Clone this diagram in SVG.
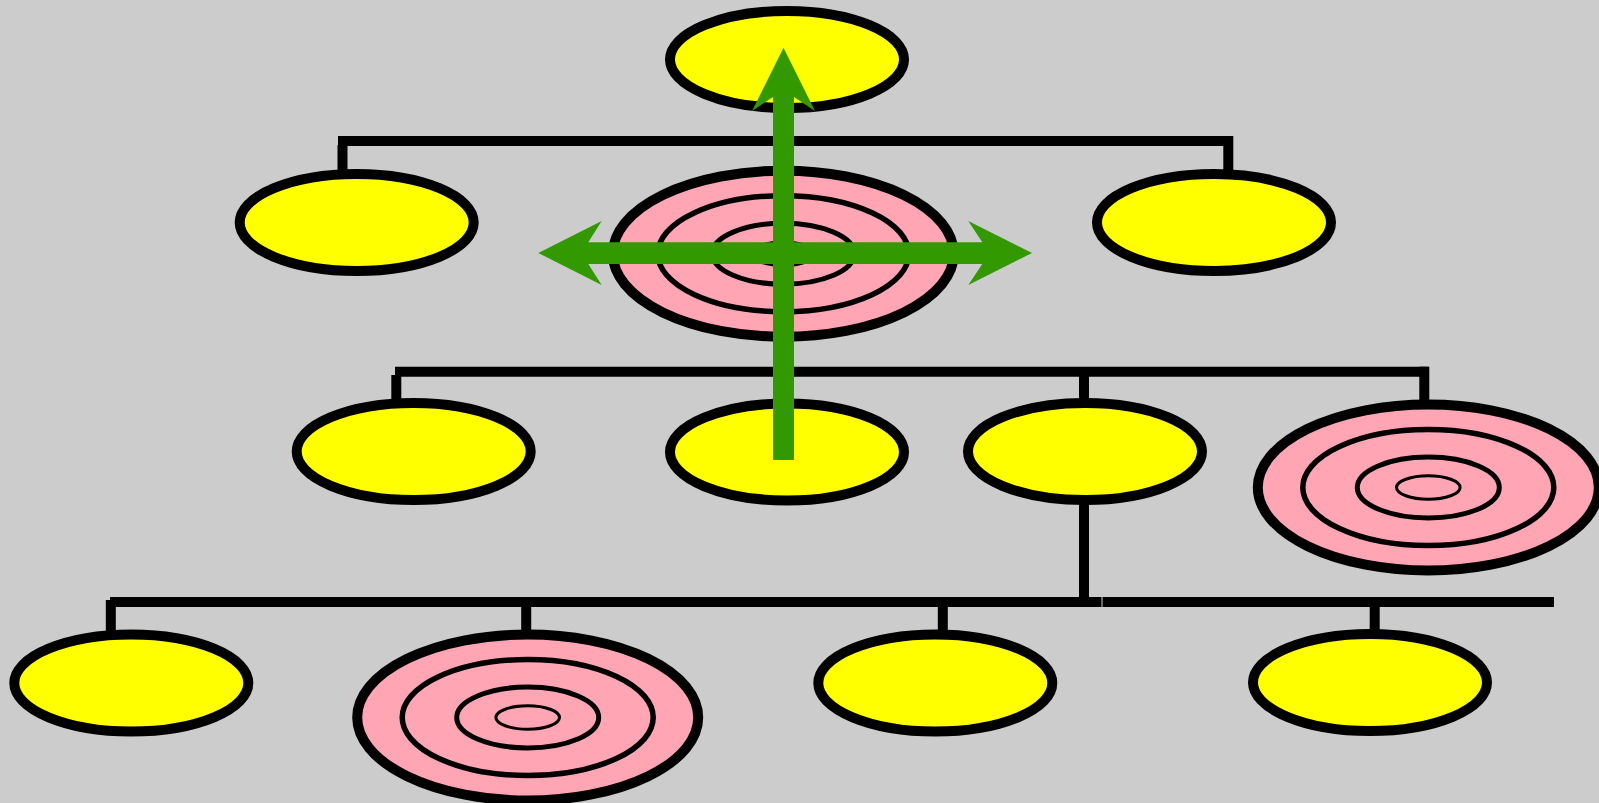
<svg xmlns="http://www.w3.org/2000/svg" width="1599" height="803" viewBox="0 0 1599 803">
<defs>
<style>
.node{fill:#ffff00;stroke:#000;stroke-width:10}
.pk{fill:#ffa5b4;stroke:#000}
.r1{stroke-width:10}
.r2{stroke-width:5.5}
.r3{stroke-width:5}
.r4{stroke-width:3}
.c{stroke:#000;stroke-width:10;fill:none;stroke-linecap:butt}
.g{fill:#339900}
</style>
<g id="pinkrings">
<ellipse class="pk r1" cx="0" cy="0" rx="170.5" ry="83"/>
<ellipse class="pk r2" cx="0" cy="0" rx="125.5" ry="58"/>
<ellipse class="pk r3" cx="0" cy="0" rx="71" ry="30.5"/>
<ellipse class="pk r4" cx="0" cy="0" rx="31.8" ry="11.7"/>
</g>
</defs>
<rect x="0" y="0" width="1599" height="803" fill="#cccccc"/>
<g id="connectors">
<line class="c" x1="338" y1="141" x2="803" y2="141"/>
<line class="c" x1="803" y1="141" x2="1233" y2="141"/>
<line class="c" x1="342.5" y1="145" x2="342.5" y2="176"/>
<line class="c" x1="1228.3" y1="136" x2="1228.3" y2="176"/>
<line class="c" x1="395" y1="371.7" x2="802" y2="371.7"/>
<line class="c" x1="802" y1="371.7" x2="1428.3" y2="371.7"/>
<line class="c" x1="396.3" y1="375" x2="396.3" y2="404"/>
<line class="c" x1="1084" y1="372" x2="1084" y2="404"/>
<line class="c" x1="1424.3" y1="366.7" x2="1424.3" y2="406"/>
<line class="c" x1="1084" y1="500" x2="1084" y2="602"/>
<line class="c" x1="110" y1="602" x2="1101.5" y2="602"/>
<line class="c" x1="1102.5" y1="602" x2="1554" y2="602"/>
<line class="c" x1="110.8" y1="600" x2="110.8" y2="636"/>
<line class="c" x1="526.2" y1="602" x2="526.2" y2="636"/>
<line class="c" x1="942.8" y1="602" x2="942.8" y2="636"/>
<line class="c" x1="1374.7" y1="602" x2="1374.7" y2="636"/>
</g>
<g id="n_top"><ellipse class="node" cx="787" cy="59.5" rx="117" ry="48.5"/></g>
<g id="n_l2a"><ellipse class="node" cx="356.7" cy="222.5" rx="117" ry="48.5"/></g>
<g id="n_l2b"><use href="#pinkrings" transform="translate(783.3,253.7)"/></g>
<g id="n_l2c"><ellipse class="node" cx="1214" cy="222.5" rx="117" ry="48.5"/></g>
<g id="n_l3a"><ellipse class="node" cx="413.7" cy="451.5" rx="117" ry="48.5"/></g>
<g id="n_l3b"><ellipse class="node" cx="787" cy="452" rx="117" ry="48.5"/></g>
<g id="n_l3c"><ellipse class="node" cx="1085" cy="451.5" rx="117" ry="48.5"/></g>
<g id="n_l3d"><use href="#pinkrings" transform="translate(1428.3,487.5)"/></g>
<g id="n_l4a"><ellipse class="node" cx="131.3" cy="683" rx="117" ry="48.5"/></g>
<g id="n_l4b"><use href="#pinkrings" transform="translate(527.7,717.5)"/></g>
<g id="n_l4c"><ellipse class="node" cx="935.3" cy="683" rx="117" ry="48.5"/></g>
<g id="n_l4d"><ellipse class="node" cx="1370" cy="682.5" rx="117" ry="48.5"/></g>
<g id="arrows">
<polygon class="g" points="538.3,253 601.7,221 588.3,242.3 982.3,242.3 968.3,221 1032,253 968.3,285 982.3,264 588.3,264 601.7,285"/>
<polygon class="g" points="783.5,47.7 815,111 794,97 794,460 773,460 773,97 752,111"/>
</g>
</svg>
